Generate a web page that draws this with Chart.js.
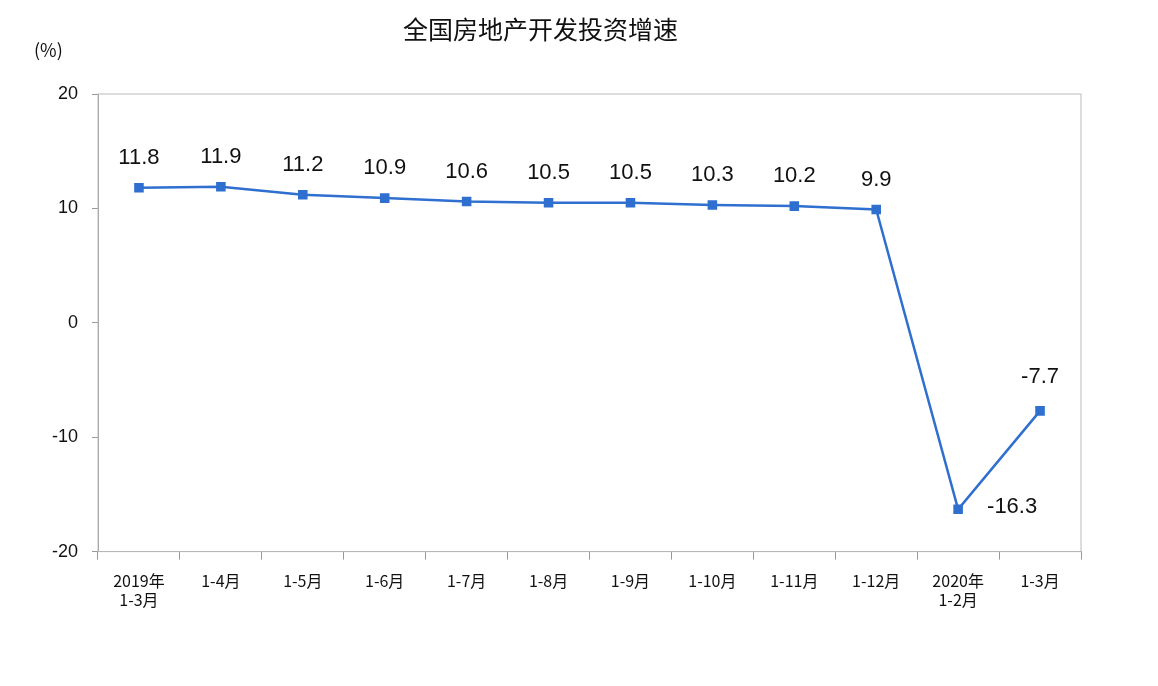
<!DOCTYPE html>
<html><head><meta charset="utf-8">
<script src="https://cdn.jsdelivr.net/npm/chart.js@4"></script>
<style>body{margin:0;background:#fff}#w{width:1158px;height:686px}</style>
</head><body><div id="w"><canvas id="c"></canvas></div>
<script>
const categories=[['2019年','1-3月'],'1-4月','1-5月','1-6月','1-7月','1-8月','1-9月','1-10月','1-11月','1-12月',['2020年','1-2月'],'1-3月'];
const values=[11.8,11.9,11.2,10.9,10.6,10.5,10.5,10.3,10.2,9.9,-16.3,-7.7];
const yTicks=[20,10,0,-10,-20];
const blue='#2e6fcf';
const labelPlugin={id:'lbl',afterDatasetsDraw(ch){
  const c=ch.ctx,m=ch.getDatasetMeta(0);
  c.save();c.font='22px "Liberation Sans", Arial';c.fillStyle='#111';c.textAlign='center';
  m.data.forEach((p,i)=>{
    let x=p.x,y=p.y-30;
    if(i===10){x=p.x+54;y=p.y-2;}
    if(i===11){y=p.y-34;}
    c.textBaseline='middle';c.fillText(values[i].toFixed(1),x,y);
  });
  c.font='18px "Noto Sans CJK SC"';c.textAlign='left';c.fillText('(%)',34,50);
  c.restore();
}};
new Chart(document.getElementById('c'),{type:'line',
data:{labels:categories,datasets:[{data:values,borderColor:blue,backgroundColor:blue,borderWidth:2.5,pointStyle:'rect',pointRadius:5,pointBackgroundColor:blue,tension:0}]},
options:{responsive:true,maintainAspectRatio:false,animation:false,
layout:{padding:{top:0,right:77,bottom:64,left:0}},
plugins:{legend:{display:false},tooltip:{enabled:false},
 title:{display:true,text:'全国房地产开发投资增速',font:{family:'"Noto Sans CJK SC"',size:25,weight:'normal'},color:'#111',padding:{top:14,bottom:50}}},
scales:{
 x:{offset:true,grid:{display:true,drawOnChartArea:false,offset:true,tickLength:8,color:'#999'},border:{color:'#999'},
   ticks:{color:'#111',font:{family:'"Noto Sans CJK SC"',size:16},maxRotation:0,autoSkip:false,padding:12}},
 y:{min:-20,max:20,afterFit(s){s.width=98;},grid:{drawOnChartArea:false,tickLength:6,color:'#999'},border:{color:'#999'},
   afterBuildTicks(s){s.ticks=yTicks.map(v=>({value:v}));},
   ticks:{color:'#111',font:{family:'"Liberation Sans"',size:18},padding:14}}
}},
plugins:[labelPlugin,{id:'box',afterDraw(ch){const a=ch.chartArea,c=ch.ctx;c.save();c.strokeStyle='#bbb';c.lineWidth=1;c.strokeRect(a.left,a.top,a.right-a.left,a.bottom-a.top);c.restore();}}]
});
</script></body></html>
